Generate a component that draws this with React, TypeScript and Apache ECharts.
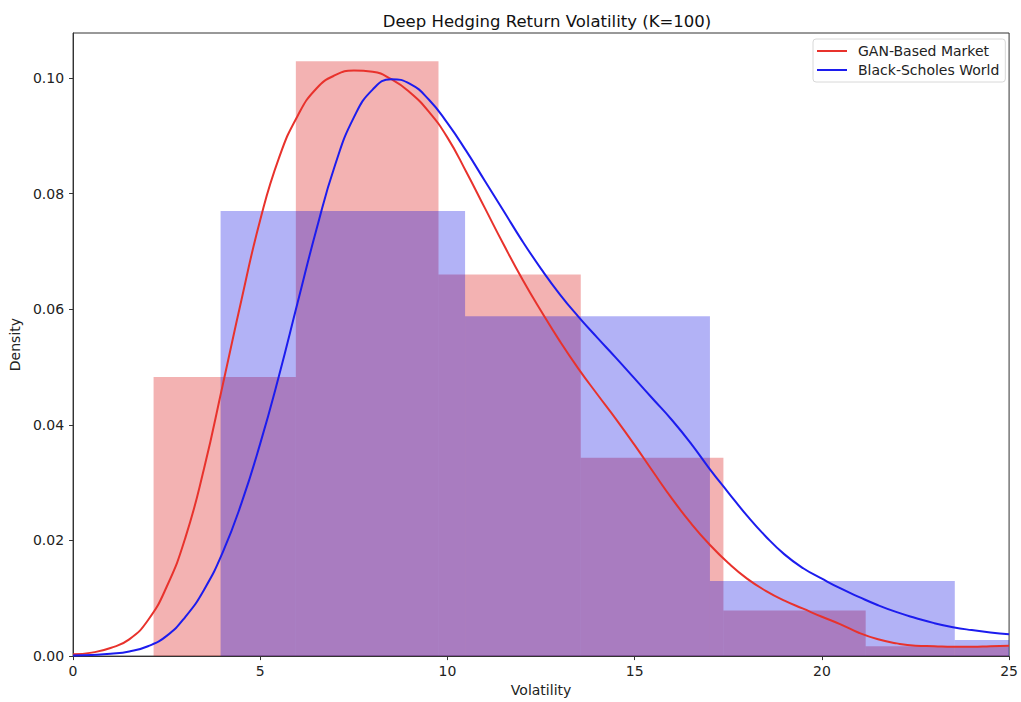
import React, { useEffect, useRef } from "react";
import * as echarts from "echarts";

const TITLE = "Deep Hedging Return Volatility (K=100)";
const X_NAME = "Volatility";
const Y_NAME = "Density";
const GAN_NAME = "GAN-Based Market";
const BS_NAME = "Black-Scholes World";

const xTicks = [0, 5, 10, 15, 20, 25];
const yTicks = [0, 0.02, 0.04, 0.06, 0.08, 0.1];

// histogram bins: edges and densities
const ganEdges = [2.15, 5.95, 9.76, 13.56, 17.37, 21.17, 24.98];
const ganHeights = [0.0483, 0.1029, 0.066, 0.0343, 0.0079, 0.0017];
const bsEdges = [3.94, 10.47, 17.01, 23.55, 30.09];
const bsHeights = [0.077, 0.0588, 0.013, 0.0028];

// KDE curves
const kdeX = [0, 0.5, 1, 1.5, 2, 2.5, 3, 3.5, 4, 4.5, 5, 5.5, 6, 6.5, 7, 7.5, 8, 8.5, 9, 9.5, 10, 10.5, 11, 11.5, 12, 12.5, 13, 13.5, 14, 14.5, 15, 15.5, 16, 16.5, 17, 17.5, 18, 18.5, 19, 19.5, 20, 20.5, 21, 21.5, 22, 22.5, 23, 23.5, 24, 24.5, 25];
const ganKde = [0.0003, 0.0006, 0.0014, 0.0029, 0.0062, 0.012, 0.0205, 0.0325, 0.047, 0.0617, 0.0755, 0.0862, 0.0935, 0.0982, 0.1005, 0.1013, 0.1011, 0.0998, 0.0975, 0.0942, 0.0897, 0.0838, 0.0775, 0.0712, 0.0652, 0.0597, 0.0545, 0.0497, 0.0453, 0.041, 0.0365, 0.0318, 0.0272, 0.023, 0.0193, 0.0161, 0.0134, 0.0113, 0.0096, 0.0082, 0.0068, 0.0055, 0.004, 0.0029, 0.0022, 0.0018, 0.0017, 0.0016, 0.0016, 0.0017, 0.0018];
const bsKde = [0.0001, 0.0002, 0.0004, 0.0008, 0.0017, 0.0035, 0.0068, 0.0115, 0.018, 0.0265, 0.0368, 0.0485, 0.0612, 0.0738, 0.085, 0.0932, 0.098, 0.0998, 0.099, 0.0963, 0.0922, 0.0874, 0.0822, 0.077, 0.0718, 0.067, 0.0626, 0.0587, 0.0551, 0.0516, 0.048, 0.0444, 0.0408, 0.0368, 0.0324, 0.0283, 0.0243, 0.0207, 0.0176, 0.0152, 0.0134, 0.0117, 0.0102, 0.0088, 0.0076, 0.0066, 0.0057, 0.005, 0.0045, 0.0041, 0.0038];

const FONT = "DejaVu Sans";

function binData(edges: number[], heights: number[]) {
  return heights.map((h, i) => [edges[i], edges[i + 1], h]);
}

function histSeries(name: string, edges: number[], heights: number[], fill: string, z: number) {
  return {
    type: "custom",
    name,
    z,
    encode: { x: [0, 1], y: 2 },
    data: binData(edges, heights),
    renderItem: (params: any, api: any) => {
      const p0 = api.coord([api.value(0), api.value(2)]);
      const p1 = api.coord([api.value(1), 0]);
      const cs = params.coordSys;
      const r = echarts.graphic.clipRectByRect(
        { x: p0[0], y: p0[1], width: p1[0] - p0[0], height: p1[1] - p0[1] },
        { x: cs.x, y: cs.y, width: cs.width, height: cs.height }
      );
      if (!r) return null;
      return { type: "rect", shape: r, style: { fill } };
    },
  };
}

export default function App() {
  const ref = useRef<HTMLDivElement>(null);
  useEffect(() => {
    if (!ref.current) return;
    const chart = echarts.init(ref.current, null, { renderer: "svg" });
    chart.setOption({
      animation: false,
      backgroundColor: "#ffffff",
      title: {
        text: TITLE,
        left: 542,
        textAlign: "center",
        top: 8,
        textStyle: { fontFamily: FONT, fontSize: 16.5, fontWeight: "normal", color: "#111" },
      },
      legend: {
        orient: "vertical",
        left: 813,
        top: 39,
        padding: [5, 6, 5, 4],
        itemGap: 5,
        itemWidth: 30,
        itemHeight: 2,
        icon: "rect",
        borderColor: "#d8d8d8",
        borderWidth: 1,
        borderRadius: 3,
        backgroundColor: "rgba(255,255,255,0.8)",
        data: [GAN_NAME, BS_NAME],
        textStyle: { fontFamily: FONT, fontSize: 14, color: "#222", padding: [0, 0, 0, 6] },
      },
      grid: {
        left: 71,
        right: 8,
        top: 33,
        bottom: 44,
        show: true,
        borderColor: "#333",
        borderWidth: 1,
        backgroundColor: "transparent",
      },
      xAxis: {
        type: "value",
        min: 0,
        max: 25,
        interval: 5,
        name: X_NAME,
        nameLocation: "middle",
        nameGap: 24,
        nameTextStyle: { fontFamily: FONT, fontSize: 14, color: "#222" },
        axisLine: { show: true, onZero: false, lineStyle: { color: "#333", width: 1 } },
        axisTick: { show: true, length: 4, inside: false, lineStyle: { color: "#333" } },
        axisLabel: {
          fontFamily: FONT,
          fontSize: 14,
          color: "#222",
          margin: 8,
          customValues: xTicks,
        },
        splitLine: { show: false },
      },
      yAxis: {
        type: "value",
        min: 0,
        max: 0.1078,
        name: Y_NAME,
        nameLocation: "middle",
        nameGap: 46,
        nameRotate: 90,
        nameTextStyle: { fontFamily: FONT, fontSize: 14, color: "#222" },
        axisLine: { show: true, lineStyle: { color: "#333", width: 1 } },
        axisTick: { show: true, length: 4, customValues: yTicks, lineStyle: { color: "#333" } },
        axisLabel: {
          fontFamily: FONT,
          fontSize: 14,
          color: "#222",
          margin: 9,
          customValues: yTicks,
          formatter: (v: number) => v.toFixed(2),
        },
        splitLine: { show: false },
      },
      series: [
        histSeries("gan-hist", ganEdges, ganHeights, "rgba(215,0,0,0.3)", 1),
        histSeries("bs-hist", bsEdges, bsHeights, "rgba(0,0,225,0.3)", 2),
        {
          type: "line",
          name: GAN_NAME,
          z: 3,
          data: kdeX.map((x, i) => [x, ganKde[i]]),
          smooth: 0.5,
          showSymbol: false,
          symbol: "none",
          color: "#e8322c",
          lineStyle: { color: "#e8322c", width: 2 },
        },
        {
          type: "line",
          name: BS_NAME,
          z: 4,
          data: kdeX.map((x, i) => [x, bsKde[i]]),
          smooth: 0.5,
          showSymbol: false,
          symbol: "none",
          color: "#1c1cee",
          lineStyle: { color: "#1c1cee", width: 2 },
        },
      ],
    });
    return () => chart.dispose();
  }, []);
  return (
    <div
      ref={ref}
      style={{ position: "fixed", left: 0, top: 0, width: 1021, height: 702, background: "#fff" }}
    />
  );
}
